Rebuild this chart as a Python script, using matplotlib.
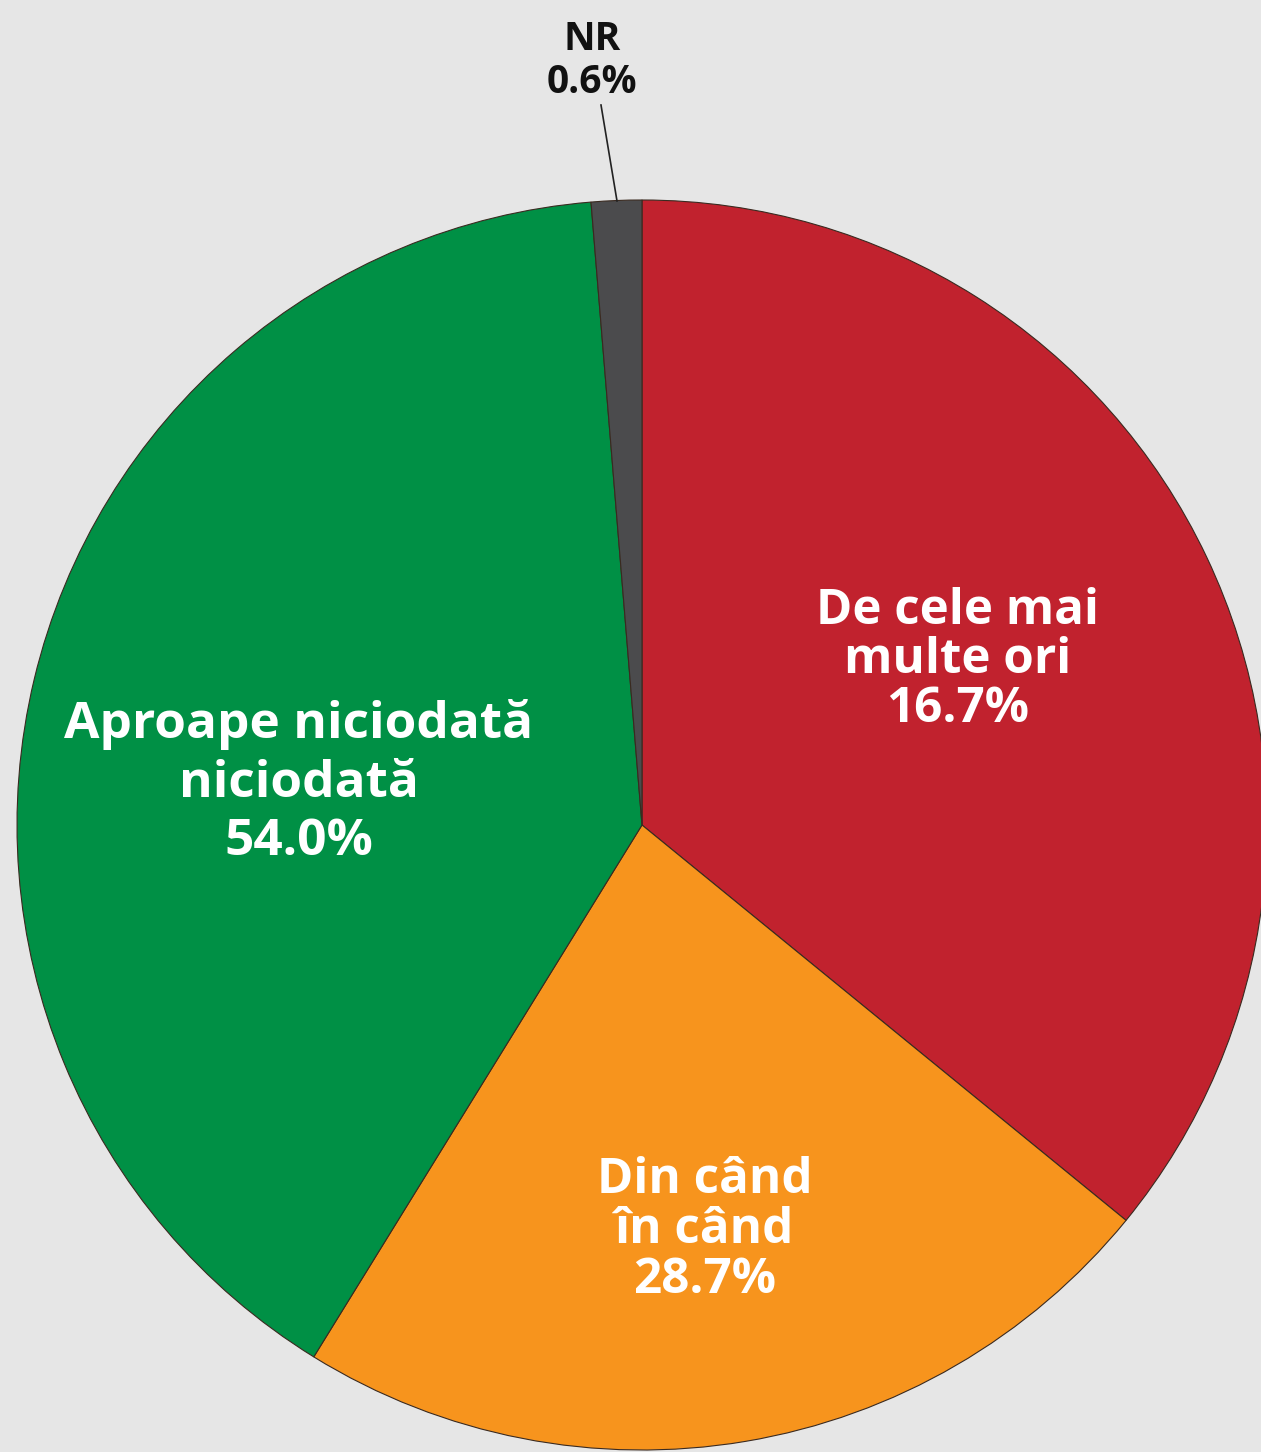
import matplotlib
matplotlib.use("Agg")
import matplotlib.pyplot as plt

# Data
categories = ["De cele mai\nmulte ori", "Din când\nîn când", "Aproape niciodată\nniciodată", "NR"]
label_pcts = [16.7, 28.7, 54.0, 0.6]          # percentages printed on the chart
drawn_shares = [35.9, 22.9, 39.9, 1.3]        # slice sizes as drawn in the picture
colors = ["#C1222E", "#F7941D", "#009045", "#4B4B4D"]

W, H = 1261, 1452
fig = plt.figure(figsize=(W / 100, H / 100), dpi=100)
fig.patch.set_facecolor("#E6E6E6")
ax = fig.add_axes([0, 0, 1, 1])
ax.set_facecolor("#E6E6E6")

cx, cy, r = 642, H - 825, 625
ax.pie(drawn_shares, colors=colors, startangle=90, counterclock=False,
       center=(cx, cy), radius=r, frame=True,
       wedgeprops=dict(edgecolor="#3a2a20", linewidth=0.8))
ax.set_xlim(0, W)
ax.set_ylim(0, H)
ax.set_aspect("equal")
ax.axis("off")

font = ["Open Sans", "DejaVu Sans"]
# (x centre, baselines of each line, font size)
label_layout = [
    (958, [624, 673, 722], 35.5),
    (705, [1193, 1243, 1293], 35.5),
    (299, [738, 797, 855], 37),
]
for i, (x, baselines, fs) in enumerate(label_layout):
    lines = categories[i].split("\n") + [f"{label_pcts[i]:.1f}%"]
    for line, yb in zip(lines, baselines):
        ax.text(x, H - yb, line, ha="center", va="baseline", color="white",
                fontsize=fs, fontweight="bold", family=font)

# NR label with leader line
nr_lines = [categories[3], f"{label_pcts[3]:.1f}%"]
for line, yb in zip(nr_lines, [50, 93]):
    ax.text(592, H - yb, line, ha="center", va="baseline", color="#111111",
            fontsize=28, fontweight="bold", family=font)
ax.plot([601, 617], [H - 105, H - 201], color="#222222", linewidth=1.2)

fig.savefig("out.png", dpi=100, facecolor=fig.get_facecolor())
